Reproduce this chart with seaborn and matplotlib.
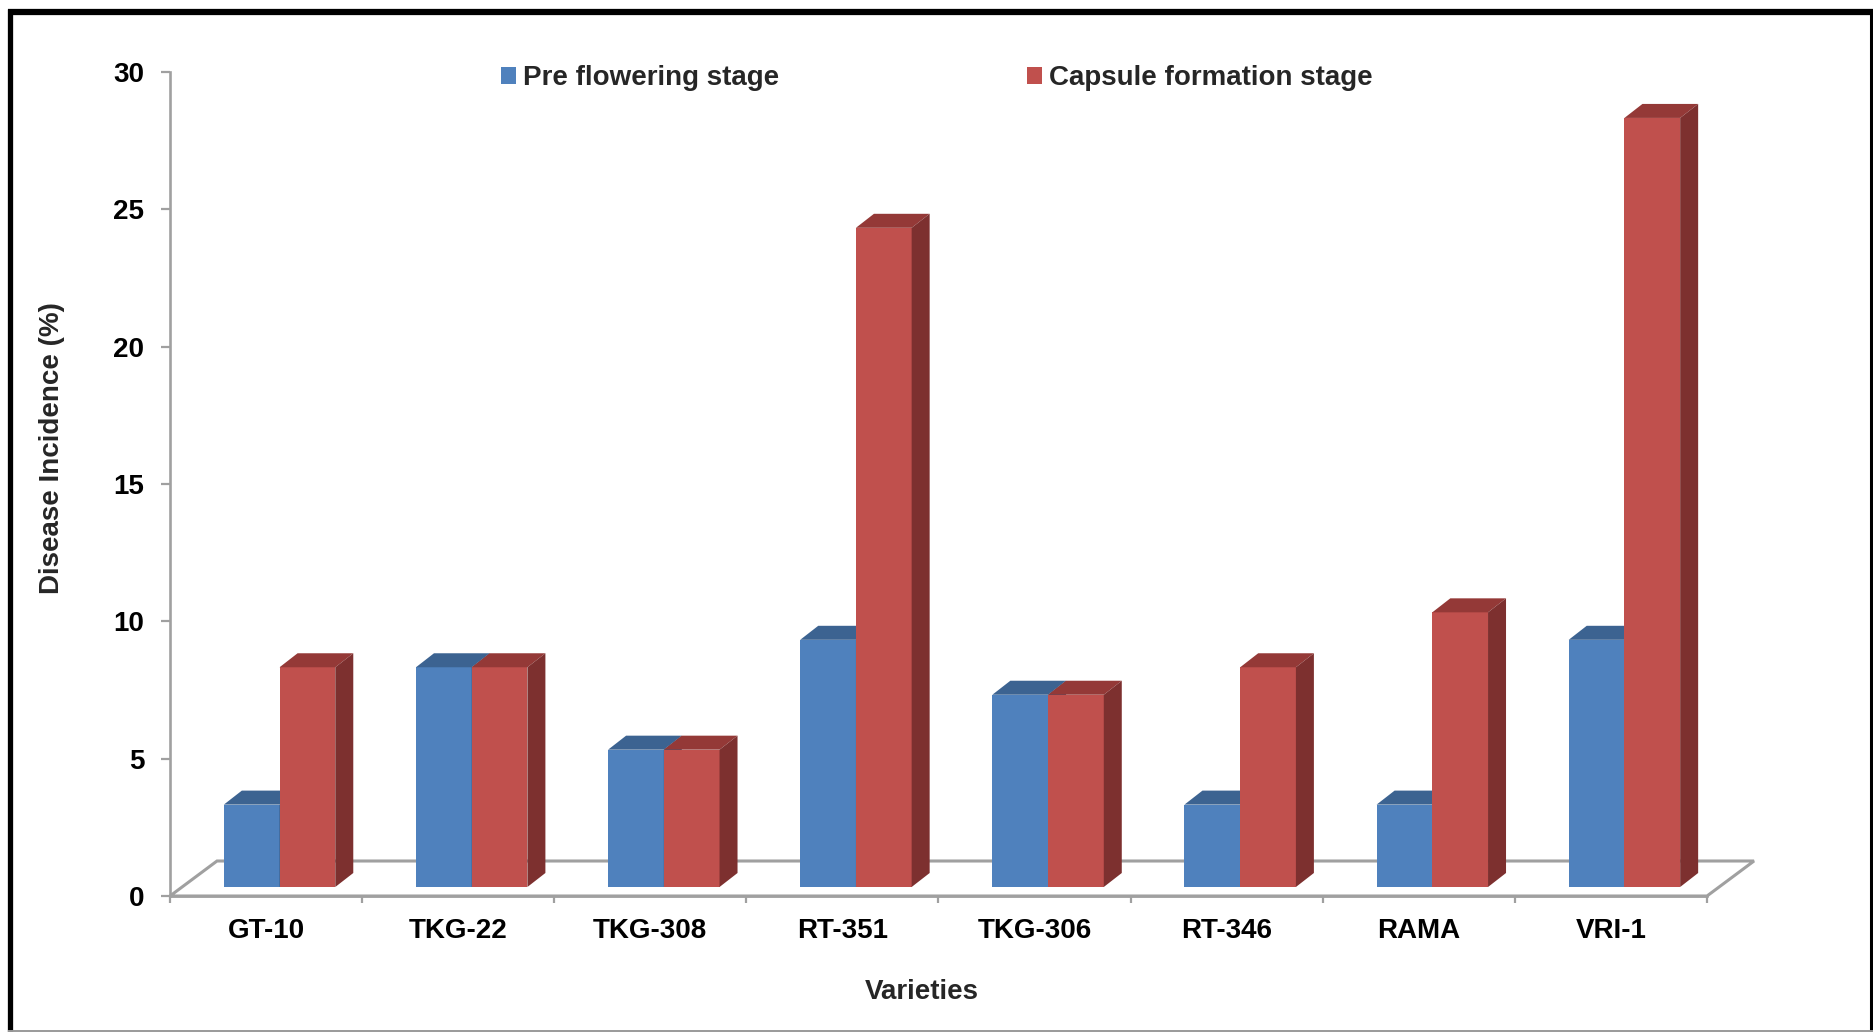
import matplotlib
matplotlib.use("Agg")
import matplotlib.pyplot as plt
import matplotlib.transforms as mtransforms
from matplotlib.patches import Polygon, Patch
from matplotlib.lines import Line2D
import numpy as np
import pandas as pd
import seaborn as sns

# ---- data -------------------------------------------------------------
varieties = ["GT-10", "TKG-22", "TKG-308", "RT-351", "TKG-306", "RT-346", "RAMA", "VRI-1"]
stages = ["Pre flowering stage", "Capsule formation stage"]
pre_flowering = [3, 8, 5, 9, 7, 3, 3, 9]
capsule_formation = [8, 8, 5, 24, 7, 8, 10, 28]
y_ticks = [0, 5, 10, 15, 20, 25, 30]

df = pd.DataFrame({
    "Variety": varieties * 2,
    "Stage": [stages[0]] * len(varieties) + [stages[1]] * len(varieties),
    "Incidence": pre_flowering + capsule_formation,
})

# ---- style ------------------------------------------------------------
sns.set_theme(style="white")
plt.rcParams["font.family"] = ["Liberation Sans", "DejaVu Sans"]
plt.rcParams["font.weight"] = "bold"

FRONT = {stages[0]: "#4F81BD", stages[1]: "#C0504D"}
TOP = {stages[0]: "#3C6391", stages[1]: "#943937"}
SIDE = {stages[0]: "#34557D", stages[1]: "#7D302F"}
GRID_GREY = "#A0A0A0"
FS = 20

W, H = 1874, 1032
DPI = 100
fig = plt.figure(figsize=(W / DPI, H / DPI), dpi=DPI)
fig.patch.set_facecolor("white")

def fx(x):
    return x / W

def fy(y):
    return 1 - y / H

# plot area (front plane of the 3-D box)
L, R, T, B = 170, 1707, 72, 896
ax = fig.add_axes([fx(L), fy(B), (R - L) / W, (B - T) / H])
ax.set_facecolor("none")

sns.barplot(data=df, x="Variety", y="Incidence", hue="Stage", order=varieties,
            hue_order=stages, palette=[FRONT[s] for s in stages], width=0.58,
            saturation=1, linewidth=0, legend=False, ax=ax)

ax.set_xlim(-0.5, len(varieties) - 0.5)
ax.set_ylim(0, 30)

px_x = (R - L) / len(varieties)   # pixels per category
px_y = (B - T) / 30.0             # pixels per percentage point

# bars sit a little behind the front plane of the floor
plane = ax.transData + mtransforms.ScaledTranslation(13.5 / DPI, 9 / DPI, fig.dpi_scale_trans)
dep_x, dep_y = 18 / px_x, 14 / px_y   # bar depth in data units

n = len(varieties)
for i, bar in enumerate(ax.patches):
    stage = stages[i // n]
    z = 2 + (i // n)
    x0 = bar.get_x()
    w = bar.get_width()
    h = bar.get_height()
    x1 = x0 + w
    bar.set_transform(plane)
    bar.set_zorder(z)
    bar.set_clip_on(False)
    top = Polygon([(x0, h), (x1, h), (x1 + dep_x, h + dep_y), (x0 + dep_x, h + dep_y)],
                  closed=True, facecolor=TOP[stage], edgecolor="none",
                  transform=plane, zorder=z, clip_on=False)
    side = Polygon([(x1, 0), (x1 + dep_x, dep_y), (x1 + dep_x, h + dep_y), (x1, h)],
                   closed=True, facecolor=SIDE[stage], edgecolor="none",
                   transform=plane, zorder=z, clip_on=False)
    ax.add_patch(top)
    ax.add_patch(side)

# floor of the 3-D box
fl_x, fl_y = 47 / px_x, 35 / px_y
x_lo, x_hi = -0.5, n - 0.5
floor = Polygon([(x_lo, 0), (x_hi, 0), (x_hi + fl_x, fl_y), (x_lo + fl_x, fl_y)],
                closed=True, facecolor="white", edgecolor=GRID_GREY, linewidth=2.2,
                joinstyle="miter", transform=ax.transData, zorder=0.5, clip_on=False)
ax.add_patch(floor)

# axes
for s in ["top", "right"]:
    ax.spines[s].set_visible(False)
for s in ["left", "bottom"]:
    ax.spines[s].set_color(GRID_GREY)
    ax.spines[s].set_linewidth(1.9)
    ax.spines[s].set_zorder(1)

ax.set_yticks(y_ticks)
ax.set_yticklabels([str(t) for t in y_ticks], fontsize=FS, fontweight="bold")
ax.tick_params(axis="y", direction="out", length=6.5, width=1.6, color=GRID_GREY,
               pad=12, labelcolor="black", left=True)

ax.set_xticks(range(n))
ax.set_xticklabels(varieties, fontsize=FS, fontweight="bold")
ax.set_xticks(np.arange(-0.5, n, 1.0), minor=True)
ax.tick_params(axis="x", which="major", length=0, pad=16, labelcolor="black")
ax.tick_params(axis="x", which="minor", direction="out", length=5, width=1.6,
               color=GRID_GREY, bottom=True)
ax.set_xlabel("")
ax.set_ylabel("")
ax.grid(False)

fig.text(fx(922), fy(992), "Varieties", ha="center", va="center",
         fontsize=FS, fontweight="bold")
fig.text(fx(52), fy(448), "Disease Incidence (%)", ha="center", va="center",
         rotation=90, fontsize=FS, fontweight="bold")

# legend
handles = [Patch(facecolor=FRONT[s], edgecolor="none") for s in stages]
fig.legend(handles, stages, loc="center left", bbox_to_anchor=(fx(501), fy(78)),
           ncol=2, frameon=False, prop={"weight": "bold", "size": FS},
           handlelength=0.55, handleheight=0.55, handletextpad=0.25,
           columnspacing=8.9, borderpad=0, borderaxespad=0)

# outer frame
fig.add_artist(Line2D([fx(10.5), fx(10.5)], [fy(9), fy(H)], color="black",
                      linewidth=3.8, solid_capstyle="butt"))
fig.add_artist(Line2D([fx(8), fx(1874)], [fy(12), fy(12)], color="black",
                      linewidth=4.5, solid_capstyle="butt"))
fig.add_artist(Line2D([fx(1871.5), fx(1871.5)], [fy(9), fy(H)], color="black",
                      linewidth=2.2, solid_capstyle="butt"))
fig.add_artist(Line2D([fx(8), fx(1874)], [fy(1031), fy(1031)], color="#9A9A9A",
                      linewidth=1.4, solid_capstyle="butt"))

fig.savefig("out.png", dpi=DPI)
